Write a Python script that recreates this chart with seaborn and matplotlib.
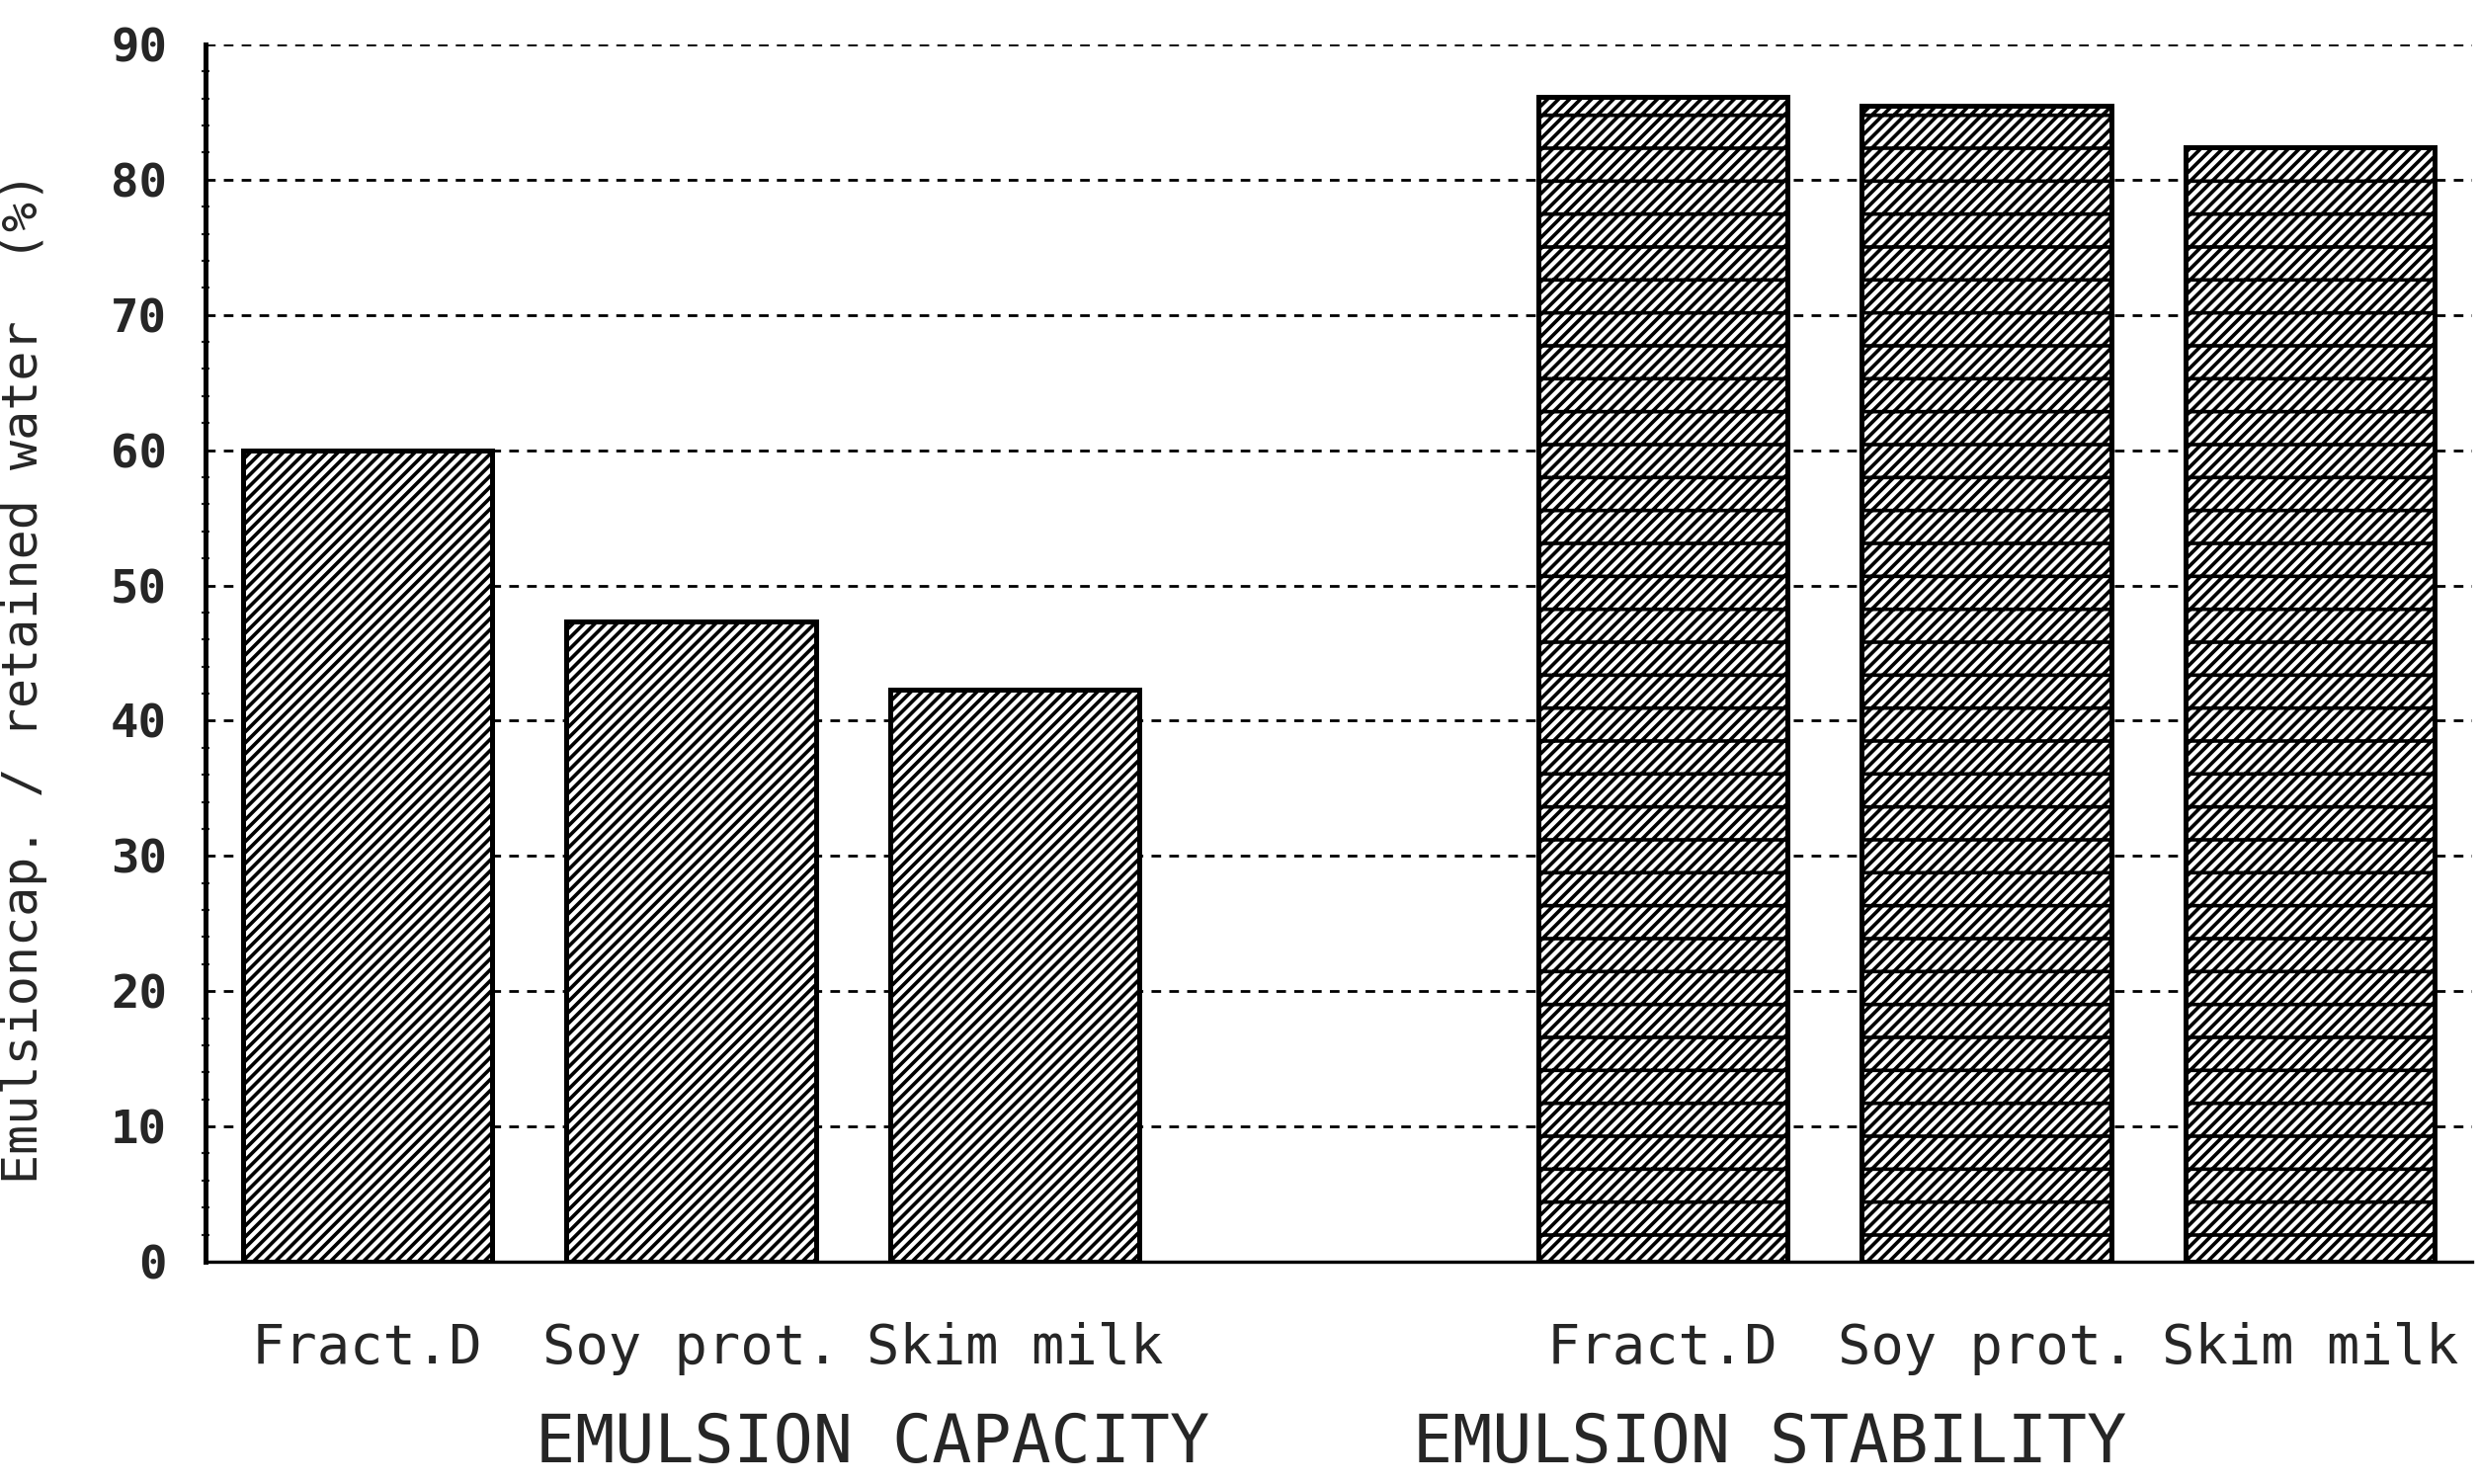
import matplotlib
matplotlib.use("Agg")
import matplotlib.pyplot as plt
from matplotlib.transforms import blended_transform_factory
import numpy as np
import pandas as pd
import seaborn as sns

# Emulsifying properties of the three protein preparations
groups = ["EMULSION CAPACITY", "EMULSION STABILITY"]
samples = ["Fract.D", "Soy prot.", "Skim milk"]
capacity = [60.0, 47.3, 42.3]
stability = [86.1, 85.5, 82.4]
y_ticks = [0, 10, 20, 30, 40, 50, 60, 70, 80, 90]
y_label = "Emulsioncap. / retained water  (%)"

# one slot between the two groups
slots_per_group = len(samples) + 1
rows = []
for g, (name, vals) in enumerate(zip(groups, [capacity, stability])):
    for i, (s, v) in enumerate(zip(samples, vals)):
        rows.append({"pos": g * slots_per_group + i, "group": name,
                     "sample": s, "value": v})
df = pd.DataFrame(rows)

sns.set_style("white")
mono = ["DejaVu Sans Mono"]
plt.rcParams["font.family"] = mono
plt.rcParams["hatch.linewidth"] = 1.3
plt.rcParams["hatch.color"] = "black"

fig = plt.figure(figsize=(12.545, 7.51), dpi=200)
ax = fig.add_axes([0.0829, 0.1498, 0.9143, 0.8203])

sns.barplot(data=df, x="pos", y="value", native_scale=True, width=0.77,
            color="white", edgecolor="black", linewidth=1.8, saturation=1,
            errorbar=None, ax=ax)

hatches = {groups[0]: "//////", groups[1]: "//////-"}
for patch, grp in zip(ax.patches, df["group"]):
    patch.set_facecolor("white")
    patch.set_edgecolor("black")
    patch.set_hatch(hatches[grp])

ax.set_xlim(-0.5, df["pos"].max() + 0.5)
ax.set_ylim(0, 90)
ax.set_yticks(y_ticks)
ax.set_yticks(np.arange(0, 91, 2), minor=True)
ax.yaxis.grid(True, which="major", linestyle=(0, (3.5, 3)),
              color="black", linewidth=1.0)
ax.set_axisbelow(True)

ax.set_xticks(df["pos"])
ax.set_xticklabels(df["sample"], fontsize=20)
ax.tick_params(axis="x", length=0, pad=22)
ax.tick_params(axis="y", which="major", length=0, pad=14, labelsize=17)
ax.tick_params(axis="y", which="minor", length=3, width=0.8,
               direction="inout", left=True)
for lab in ax.get_yticklabels():
    lab.set_fontweight("bold")

for side in ["top", "right"]:
    ax.spines[side].set_visible(False)
ax.spines["left"].set_linewidth(1.8)
ax.spines["bottom"].set_linewidth(1.2)
ax.spines["left"].set_color("black")
ax.spines["bottom"].set_color("black")

ax.set_xlabel("")
ax.set_ylabel(y_label, fontsize=18)
ax.yaxis.set_label_coords(-0.0697, 0.48)

# group titles below the sample names
trans = blended_transform_factory(ax.transData, ax.transAxes)
group_x = [1.56, 4.33]
for name, gx in zip(groups, group_x):
    ax.text(gx, -0.149, name, transform=trans, ha="center", va="center",
            fontsize=24)

fig.savefig("out.png", dpi=200)
